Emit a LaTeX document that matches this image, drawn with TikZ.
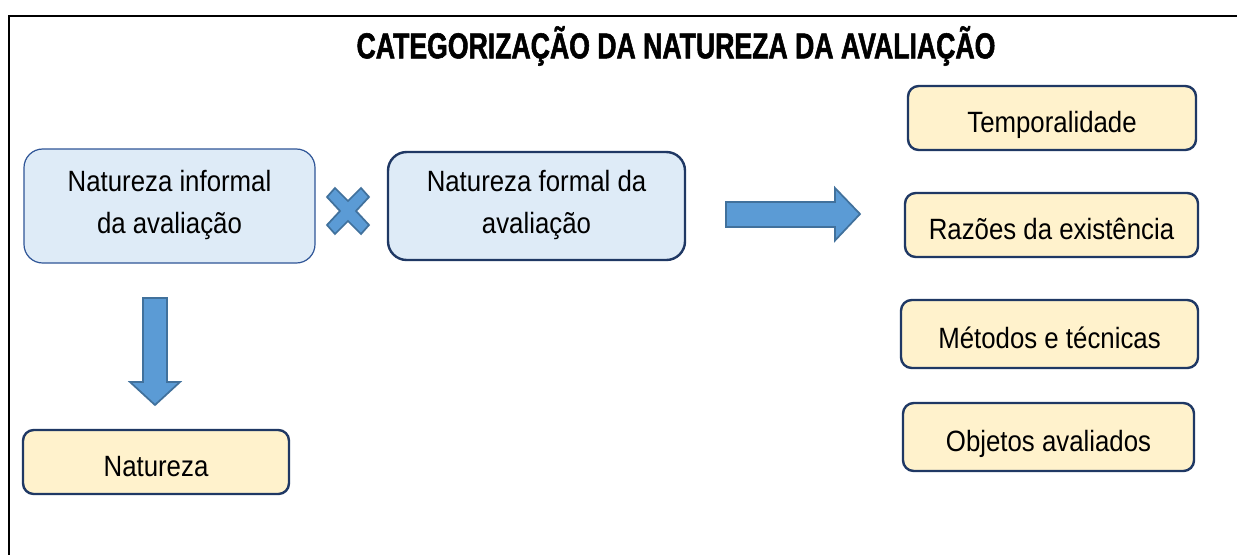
\documentclass[tikz,border=0pt]{standalone}
\usepackage{fontspec}
\setmainfont[FakeStretch=0.88]{Liberation Sans}
\newfontfamily\titlefont[FakeStretch=0.74,BoldFeatures={FakeBold=1.5}]{Liberation Sans}
\definecolor{bluefill}{HTML}{DEEBF7}
\definecolor{yelfill}{HTML}{FFF2CC}
\definecolor{navy}{HTML}{1F3864}
\definecolor{navylight}{HTML}{2F5597}
\definecolor{arrowfill}{HTML}{5B9BD5}
\definecolor{arrowline}{HTML}{41719C}
\tikzset{
  natbox/.style={draw=navy, line width=1.8pt, align=center, inner sep=0pt,
    font=\fontsize{22}{32}\selectfont,
    execute at begin node={\rule{0pt}{28pt}},
    execute at end node={\rule[-6pt]{0pt}{6pt}}},
  bluebox/.style={natbox, fill=bluefill, rounded corners=14pt},
  yelbox/.style={natbox, fill=yelfill, rounded corners=8pt},
  blockarrow/.style={fill=arrowfill, draw=arrowline, line width=1.3pt, line join=miter}
}
\begin{document}
\begin{tikzpicture}[x=0.75pt,y=-0.75pt]
\useasboundingbox (0,0) rectangle (1237,554);
\fill[white] (0,0) rectangle (1237,554);
% frame
\draw[line width=2pt] (1245,16) -- (9,16) -- (9,560);
% title
\node[font=\titlefont\bfseries\fontsize{27}{32}\selectfont] (title) at (676,46) {CATEGORIZAÇÃO DA NATUREZA DA AVALIAÇÃO};
% boxes
\node[bluebox, draw=navylight, line width=0.9pt, minimum width=218.25pt, minimum height=85.5pt] (inf) at (169.5,206) {Natureza informal\\da avaliação};
\node[bluebox, minimum width=222.75pt, minimum height=81pt] (form) at (536.5,206) {Natureza formal da\\avaliação};
\node[yelbox, minimum width=199.5pt, minimum height=48pt] (nat) at (156,462) {Natureza};
\node[yelbox, minimum width=216pt, minimum height=48pt] (temp) at (1052,118) {Temporalidade};
\node[yelbox, minimum width=219.75pt, minimum height=48pt] (raz) at (1051.5,225) {Razões da existência};
\node[yelbox, minimum width=222.75pt, minimum height=51pt] (met) at (1049.5,334) {Métodos e técnicas};
\node[yelbox, minimum width=218.25pt, minimum height=51pt] (obj) at (1048.5,437) {Objetos avaliados};
% X mark
\draw[blockarrow] (348,211) ++(-13,-23) -- ++(13,13) -- ++(13,-13) -- ++(8,9) -- ++(-13,14)
  -- ++(13,14) -- ++(-8,9) -- ++(-13,-13) -- ++(-13,13) -- ++(-8,-9) -- ++(13,-14) -- ++(-13,-14) -- cycle;
% right arrow
\draw[blockarrow] (726,202) -- (835,202) -- (835,188) -- (860,214) -- (835,240.5) -- (835,227) -- (726,227) -- cycle;
% down arrow
\draw[blockarrow] (143,298) -- (167,298) -- (167,382) -- (180,382) -- (155,405) -- (130,382) -- (143,382) -- cycle;
\end{tikzpicture}
\end{document}
